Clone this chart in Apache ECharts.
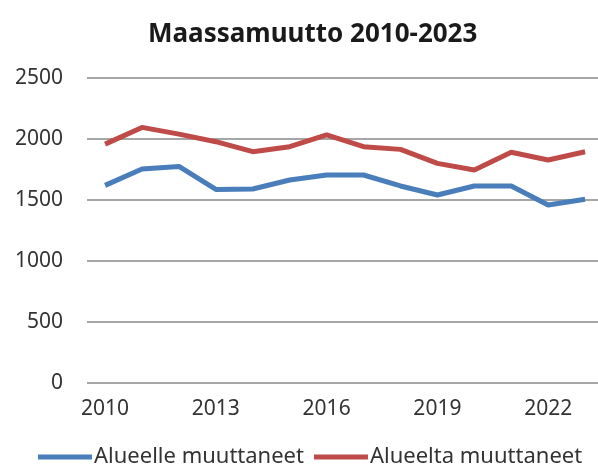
<!DOCTYPE html>
<html>
<head>
<meta charset="utf-8">
<script src="https://cdn.jsdelivr.net/npm/echarts@6/dist/echarts.min.js"></script>
<style>
  html, body { margin: 0; padding: 0; background: #fff; }
  #chart { width: 598px; height: 475px; }
</style>
</head>
<body>
<div id="chart"></div>
<script>
// vuodet ja muuttajat
var years = [2010, 2011, 2012, 2013, 2014, 2015, 2016, 2017, 2018, 2019, 2020, 2021, 2022, 2023];
var alueelle = [1620, 1754, 1775, 1587, 1590, 1664, 1705, 1705, 1615, 1541, 1615, 1615, 1459, 1506];
var alueelta = [1958, 2095, 2040, 1978, 1896, 1937, 2033, 1937, 1915, 1800, 1746, 1891, 1828, 1896];
var yearLabels = [2010, 2013, 2016, 2019, 2022];

function pairs(vals) {
  return years.map(function (y, i) { return [y, vals[i]]; });
}

var font = 'Noto Sans';
var chart = echarts.init(document.getElementById('chart'));
var option = {
  animation: false,
  title: {
    text: 'Maassamuutto 2010-2023',
    left: 143,
    top: 17,
    textStyle: { fontFamily: font, fontSize: 26, fontWeight: 'bold', color: '#1a1a1a' }
  },
  grid: { left: 87, right: 0, top: 78, bottom: 92 },
  legend: {
    left: 33,
    bottom: 2,
    icon: 'rect',
    itemWidth: 54,
    itemHeight: 5,
    itemGap: 10,
    textStyle: { fontFamily: font, fontSize: 22, color: '#333', padding: [0, 0, 0, -3] },
    data: ['Alueelle muuttaneet', 'Alueelta muuttaneet']
  },
  xAxis: {
    type: 'value',
    min: 2009.51,
    max: 2023.35,
    axisLine: { show: false },
    axisTick: { show: false },
    splitLine: { show: false },
    axisLabel: {
      customValues: yearLabels,
      formatter: function (v) { return String(v); },
      margin: 16,
      fontFamily: font,
      fontSize: 21,
      color: '#333'
    }
  },
  yAxis: {
    type: 'value',
    min: 0,
    max: 2500,
    interval: 500,
    axisLine: { show: false },
    axisTick: { show: false },
    axisLabel: {
      formatter: function (v) { return String(v); },
      margin: 24,
      fontFamily: font,
      fontSize: 21,
      color: '#333'
    },
    splitLine: { lineStyle: { color: '#a6a6a6', width: 2 } }
  },
  series: [
    {
      name: 'Alueelle muuttaneet',
      type: 'line',
      symbol: 'none',
      data: pairs(alueelle),
      lineStyle: { color: '#4a7ebb', width: 5 },
      itemStyle: { color: '#4a7ebb' }
    },
    {
      name: 'Alueelta muuttaneet',
      type: 'line',
      symbol: 'none',
      data: pairs(alueelta),
      lineStyle: { color: '#be4b48', width: 5 },
      itemStyle: { color: '#be4b48' }
    }
  ]
};
chart.setOption(option);
</script>
</body>
</html>
